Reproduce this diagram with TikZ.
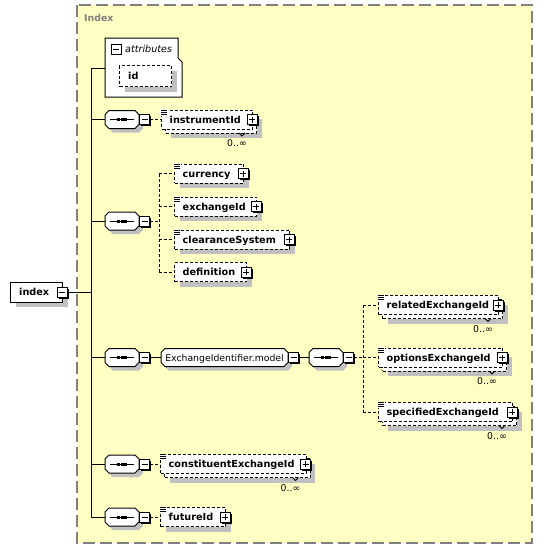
\documentclass[tikz,border=0pt]{standalone}
\usepackage{fontspec}
\setmainfont{DejaVu Sans}
\usetikzlibrary{shadows}
\definecolor{grpfill}{RGB}{255,255,196}
\definecolor{shadowc}{RGB}{192,192,192}
\definecolor{grpline}{RGB}{128,128,128}
\tikzset{
 conn/.style={line width=1pt},
 dconn/.style={line width=1pt, dash pattern=on 3pt off 2pt},
 ebox/.style={draw, line width=1pt, dash pattern=on 3pt off 2pt, fill=white, minimum height=19pt, inner sep=0pt, anchor=west},
 eshadow/.style={general shadow={fill=shadowc, shadow xshift=5pt, shadow yshift=-5pt}},
 etext/.style={font=\fontsize{9.7pt}{11pt}\selectfont\bfseries, inner sep=0pt, text height=7.1pt, text depth=0pt, anchor=west},
 mtext/.style={font=\fontsize{9.3pt}{11pt}\selectfont, inner sep=0pt, text height=7.1pt, text depth=0pt, anchor=east},
 pbtn/.style={draw, line width=1pt, fill=white, minimum size=10pt, inner sep=0pt},
 btn/.style={pbtn, general shadow={fill=black, shadow xshift=1.5pt, shadow yshift=-1.5pt}},
 minusline/.style={path picture={\draw[line width=1pt] ([xshift=2pt]path picture bounding box.west) -- ([xshift=-2pt]path picture bounding box.east);}},
 minusbtn/.style={btn, minusline},
 plusbtn/.style={btn, path picture={
   \draw[line width=1pt] ([xshift=2pt]path picture bounding box.west) -- ([xshift=-2pt]path picture bounding box.east);
   \draw[line width=1pt] ([yshift=-2pt]path picture bounding box.north) -- ([yshift=2pt]path picture bounding box.south);}},
 anchorbox/.style={inner sep=0pt, minimum height=18pt},
}
% octagon outline, half width #1, centred on origin
\newcommand\octpath[1]{(-#1+4,-9) -- (#1-4,-9) -- (#1,-5) -- (#1,5) -- (#1-4,9) -- (-#1+4,9) -- (-#1,5) -- (-#1,-5) -- cycle}
% octagon with shadow: name, cx, cy, half width
\newcommand\octa[4]{%
 \begin{scope}[shift={(#2,#3)}]
  \fill[shadowc] [shift={(4,4)}] \octpath{#4};
  \filldraw[fill=white, line width=1pt] \octpath{#4};
 \end{scope}
 \node[anchorbox, minimum width=2*#4 pt] (#1) at (#2,#3) {};
}
% sequence compositor: name, cx, cy
\newcommand\seqc[3]{%
 \octa{#1}{#2}{#3}{17}
 \draw[line width=1pt] ([xshift=-12pt]#1.center) -- ([xshift=12pt]#1.center);
 \foreach \dx in {-5.2,-1.5,2.2}{\fill ([xshift=\dx pt, yshift=1.5pt]#1.center) rectangle +(3pt,-3pt);}
 \node[minusbtn] (#1m) at (#2+22.5,#3) {};
}
% documentation icon: x1, yc
\newcommand\docic[2]{%
 \fill[white] (#1-1,#2-10.5) rectangle (#1+6.5,#2-4);
 \foreach \k in {0,2,4}{\draw[line width=0.8pt] (#1,#2-9.5+\k) -- (#1+6,#2-9.5+\k);}
}
% single element: name, x1, yc, w, text
\newcommand\selem[5]{%
 \node[ebox, eshadow, minimum width=#4pt] (#1) at (#2,#3) {};
 \node[etext] (#1t) at (#2+8.5,#3) {#5};
 \node[plusbtn] (#1p) at (#2+#4,#3) {};
}
% multiple element: name, x1, yc, w, text
\newcommand\melem[5]{%
 \node[ebox, eshadow, minimum width=#4pt] (#1b) at (#2+4,#3+4) {};
 \node[ebox, minimum width=#4pt] (#1) at (#2,#3) {};
 \node[etext] (#1t) at (#2+8.5,#3) {#5};
 \node[plusbtn] (#1p) at (#2+#4,#3) {};
 \docic{#2}{#3}
 \draw[line width=0.8pt] (#2+#4-13,#3+13.5) -- (#2+#4-10,#3+16.5) -- (#2+#4-7,#3+13.5);
 \node[mtext] (#1m) at (#2+#4-5,#3+23.5) {0..∞};
}
\begin{document}
\begin{tikzpicture}[x=1pt,y=-1pt]
\useasboundingbox[fill=white] (0,0) rectangle (543,549);
% group
\draw[grpline, line width=1.5pt, dash pattern=on 12pt off 5pt, fill=grpfill] (77,5) rectangle (532,543);
\node[font=\fontsize{9.4pt}{11pt}\selectfont\bfseries, text=grpline, anchor=west, inner sep=0pt, text height=7.1pt, text depth=0pt] (grplbl) at (84,18) {Index};
% trunk
\coordinate (tTop) at (91,68);
\coordinate (tBot) at (91,517);
\draw[conn] (tTop) -- (tBot);
% index
\node[ebox, solid, eshadow, minimum width=52pt, minimum height=20pt] (idx) at (10,292) {};
\node[etext] (idxt) at (19,292) {index};
\node[minusbtn] (idxm) at (62,292) {};
\draw[conn] (idxm.east) -- (idxm.east -| tTop);
% attributes
\draw[line width=1pt, fill=white] (105,38) -- (178,38) -- (178,58) -- (182,62) -- (182,97) -- (105,97) -- cycle;
\coordinate (attrW) at (105,68);
\draw[conn] (tTop) -- (attrW);
\node[pbtn, minusline] (attrm) at (116,49) {};
\node[font=\fontsize{9.6pt}{11pt}\selectfont\itshape, anchor=west, inner sep=0pt, text height=7.1pt, text depth=0pt] (attrt) at (125,49) {attributes};
\node[ebox, eshadow, minimum width=52pt, minimum height=21pt] (id) at (119,76) {};
\node[etext] (idt) at (128,76) {id};
% compositors
\seqc{c1}{122}{119.5}
\seqc{c2}{122}{221}
\seqc{c3}{122}{357.5}
\seqc{c4}{122}{464}
\seqc{c5}{122}{517}
\foreach \n in {c1,c2,c3,c4,c5}{\draw[conn] (\n.west) -- (\n.west -| tTop);}
% instrumentId
\melem{inst}{161}{119.5}{91}{instrumentId}
\draw[dconn] (c1m.east) -- (inst.west);
% choice group
\selem{cur}{174}{173.5}{69}{currency}
\docic{174}{173.5}
\selem{exch}{174}{206.5}{82}{exchangeId}
\docic{174}{206.5}
\selem{clr}{174}{239.5}{115}{clearanceSystem}
\docic{174}{239.5}
\selem{defn}{174}{272}{72}{definition}
\coordinate (ch) at (159,221);
\draw[dconn] (c2m.east) -- (ch);
\draw[dconn] (ch |- cur.west) -- (ch |- defn.west);
\foreach \e in {cur,exch,clr,defn}{\draw[dconn] (ch |- \e.west) -- (\e.west);}
% model group
\octa{model}{224.5}{357.5}{63.5}
\node[font=\fontsize{9.3pt}{11pt}\selectfont, inner sep=0pt, text height=7.1pt, text depth=0pt] (modelt) at (224.5,357.5) {ExchangeIdentifier.model};
\node[minusbtn] (modelm) at (293.5,357.5) {};
\draw[conn] (c3m.east) -- (model.west);
\seqc{c6}{326}{357.5}
\draw[conn] (modelm.east) -- (c6.west);
\melem{rel}{378}{305}{120}{relatedExchangeId}
\melem{opt}{378}{357.5}{124}{optionsExchangeId}
\melem{spec}{378}{412}{134}{specifiedExchangeId}
\coordinate (ch2) at (363,357.5);
\draw[dconn] (c6m.east) -- (ch2);
\draw[dconn] (ch2 |- rel.west) -- (ch2 |- spec.west);
\foreach \e in {rel,opt,spec}{\draw[dconn] (ch2 |- \e.west) -- (\e.west);}
% constituent
\melem{cons}{160}{464}{145.5}{constituentExchangeId}
\draw[dconn] (c4m.east) -- (cons.west);
% futureId
\selem{fut}{160}{517}{65}{futureId}
\docic{160}{517}
\draw[dconn] (c5m.east) -- (fut.west);
\end{tikzpicture}
\end{document}
